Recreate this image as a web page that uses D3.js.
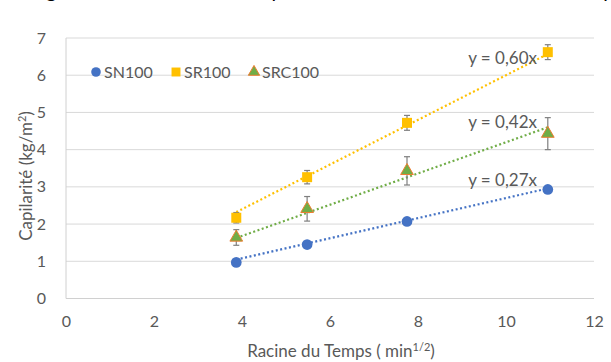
<!DOCTYPE html>
<html>
  <head>
    <meta charset="utf-8" />
    <title>Capillarité</title>
    <style>
      body { margin: 0; background: #fff; }
      svg text { font-family: Lato, "Open Sans", sans-serif; fill: #595959; }
    </style>
  </head>
  <body>
    <svg width="611" height="362"></svg>
    <script type="text/javascript" src="https://d3js.org/d3.v7.min.js"></script>
    <script type="text/javascript">
      // racine du temps (min^1/2)
      const xValues = [3.87, 5.48, 7.75, 10.95];
      const sn100 = [0.97, 1.45, 2.07, 2.93];
      const sr100 = [2.17, 3.26, 4.72, 6.62];
      const src100 = [1.64, 2.41, 3.43, 4.43];
      const srErr = [0.14, 0.18, 0.2, 0.2];
      const srcErr = [0.21, 0.33, 0.38, 0.43];
      const snErr = [0, 0, 0, 0];
      const slopes = { SN100: 0.27, SR100: 0.6, SRC100: 0.42 };
      const xTicks = [0, 2, 4, 6, 8, 10, 12];
      const yTicks = [0, 1, 2, 3, 4, 5, 6, 7];

      const svg = d3.select('svg');
      const x = d3.scaleLinear().domain([0, 12]).range([66, 594]);
      const y = d3.scaleLinear().domain([0, 7]).range([298.5, 38]);

      // caption, cut off at the top like in the source
      svg.append('text')
        .attr('x', 30).attr('y', -2)
        .style('font-size', '20px')
        .style('fill', '#000')
        .text('Figure 6 : Evolution de la capillarité des sables en fonction du temps');

      // grid
      svg.append('g').selectAll('line')
        .data(yTicks.slice(1))
        .enter().append('line')
        .attr('x1', x(0)).attr('x2', x(12))
        .attr('y1', d => y(d)).attr('y2', d => y(d))
        .attr('stroke', '#d9d9d9').attr('stroke-width', 1);

      // axes lines
      svg.append('line')
        .attr('x1', x(0)).attr('x2', x(0)).attr('y1', y(0)).attr('y2', y(7))
        .attr('stroke', '#d0d0d0');
      svg.append('line')
        .attr('x1', x(0)).attr('x2', x(12)).attr('y1', y(0)).attr('y2', y(0))
        .attr('stroke', '#d0d0d0');

      // tick labels
      const xAxis = d3.axisBottom(x).tickValues(xTicks).tickFormat(d3.format('d'))
        .tickSize(0).tickPadding(17);
      svg.append('g').attr('transform', `translate(0,${y(0)})`).call(xAxis)
        .call(g => g.select('.domain').remove())
        .selectAll('text').style('font-size', '16px').style('fill', '#595959')
        .style('font-family', 'Lato, sans-serif');

      const yAxis = d3.axisLeft(y).tickValues(yTicks).tickFormat(d3.format('d'))
        .tickSize(0).tickPadding(20);
      svg.append('g').attr('transform', `translate(${x(0)},0)`).call(yAxis)
        .call(g => g.select('.domain').remove())
        .selectAll('text').style('font-size', '16px').style('fill', '#595959')
        .style('font-family', 'Lato, sans-serif');

      // axis titles
      const xt = svg.append('text')
        .attr('x', 341).attr('y', 357)
        .attr('text-anchor', 'middle')
        .style('font-size', '17px');
      xt.append('tspan').text('Racine du Temps ( min');
      xt.append('tspan').attr('dy', -6).style('font-size', '11px').text('1/2');
      xt.append('tspan').attr('dy', 6).text(')');

      const yt = svg.append('text')
        .attr('transform', 'translate(32,176) rotate(-90)')
        .attr('text-anchor', 'middle')
        .style('font-size', '17px');
      yt.append('tspan').text('Capilarité  (kg/m');
      yt.append('tspan').attr('dy', -6).style('font-size', '11px').text('2');
      yt.append('tspan').attr('dy', 6).text(')');

      const series = [
        { name: 'SN100', values: sn100, err: snErr, color: '#4472C4', shape: d3.symbolCircle, size: 90 },
        { name: 'SR100', values: sr100, err: srErr, color: '#FFC000', shape: d3.symbolSquare, size: 100 },
        { name: 'SRC100', values: src100, err: srcErr, color: '#70AD47', shape: d3.symbolTriangle, size: 70, stroke: '#ED7D31' }
      ];

      // trend lines y = a x
      series.forEach(s => {
        const a = slopes[s.name];
        svg.append('line')
          .attr('x1', x(xValues[0])).attr('y1', y(a * xValues[0]))
          .attr('x2', x(xValues[3])).attr('y2', y(a * xValues[3]))
          .attr('stroke', s.color).attr('stroke-width', 2.2)
          .attr('stroke-dasharray', '2,2.5');
      });

      // error bars
      series.forEach(s => {
        const g = svg.append('g').attr('stroke', '#7f7f7f').attr('stroke-width', 1.2);
        s.values.forEach((v, i) => {
          if (!s.err[i]) return;
          const cx = x(xValues[i]);
          g.append('line').attr('x1', cx).attr('x2', cx)
            .attr('y1', y(v - s.err[i])).attr('y2', y(v + s.err[i]));
          [v - s.err[i], v + s.err[i]].forEach(e => {
            g.append('line').attr('x1', cx - 3).attr('x2', cx + 3)
              .attr('y1', y(e)).attr('y2', y(e));
          });
        });
      });

      // markers
      series.forEach(s => {
        svg.append('g').selectAll('path')
          .data(s.values)
          .enter().append('path')
          .attr('transform', (d, i) => `translate(${x(xValues[i])},${y(d)})`)
          .attr('d', d3.symbol().type(s.shape).size(s.size))
          .attr('fill', s.color)
          .attr('stroke', s.stroke || 'none')
          .attr('stroke-width', 1);
      });

      // equations
      const eqs = [
        { text: 'y = 0,60x', yy: 64 },
        { text: 'y = 0,42x', yy: 128 },
        { text: 'y = 0,27x', yy: 186 }
      ];
      svg.selectAll('.eq').data(eqs).enter().append('text')
        .attr('class', 'eq')
        .attr('x', 537).attr('y', d => d.yy)
        .attr('text-anchor', 'end')
        .style('font-size', '17px')
        .text(d => d.text);

      // legend
      const legX = [96, 176, 254];
      series.forEach((s, i) => {
        svg.append('path')
          .attr('transform', `translate(${legX[i]},72)`)
          .attr('d', d3.symbol().type(s.shape).size(s.size * 0.8))
          .attr('fill', s.color)
          .attr('stroke', s.stroke || 'none');
        svg.append('text')
          .attr('x', legX[i] + 8).attr('y', 78)
          .style('font-size', '16px')
          .text(s.name);
      });
    </script>
  </body>
</html>
